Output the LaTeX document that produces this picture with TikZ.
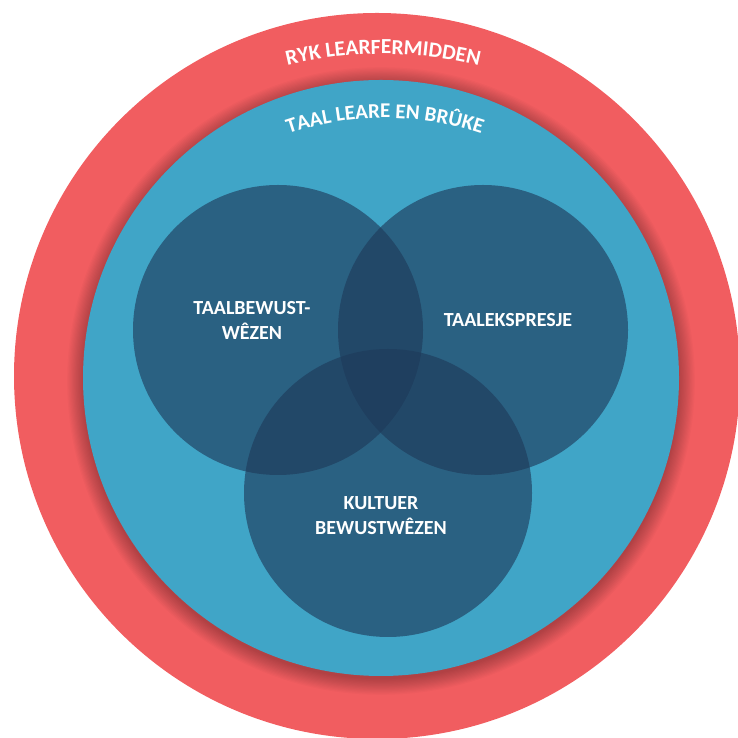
\documentclass[tikz,border=0pt]{standalone}
\usepackage{fontspec}
\setmainfont{Carlito}
\usetikzlibrary{decorations.text}
\definecolor{ringred}{RGB}{241,93,96}
\definecolor{ringblue}{RGB}{64,165,199}
\definecolor{venndark}{RGB}{30,58,90}
\tikzstyle{ring}     = [circle, inner sep=0pt, draw=none]
\tikzstyle{venn}     = [circle, inner sep=0pt, minimum size=290pt, fill=venndark, fill opacity=0.63]
\tikzstyle{venntext} = [text=white, align=center, font=\bfseries\fontsize{20}{25}\selectfont]
\tikzstyle{ringtext} = [decorate, decoration={text along path, text align=center}]

\begin{document}
\begin{tikzpicture}[x=1pt, y=1pt]
  \useasboundingbox (0,0) rectangle (737,738);
  \node (learfer) [ring, fill=ringred, minimum size=726pt] at (377,362) {};
  % soft shadow round the blue disc
  \coordinate (midden) at (381,360);
  \foreach \i in {1,...,14}
    \fill[black, opacity=0.02] ([yshift=-3pt]midden) circle [radius=297+1.2*\i];
  \node (taal) [ring, fill=ringblue, minimum size=596pt] at (midden) {};

  \node (bewustwezen) [venn] at (278,408) {};
  \node (ekspresje)   [venn] at (483,408) {};
  \node (kultuer)     [venn, minimum size=288pt] at (388,245) {};

  \node (bewustlabel)   [venntext] at (252,417.5) {TAALBEWUST-\\WÊZEN};
  \node (ekspresjelabel)[venntext] at (508,418)   {TAALEKSPRESJE};
  \node (kultuerlabel)  [venntext] at (381,222.5) {KULTUER\\BEWUSTWÊZEN};

  \path[ringtext, decoration={text={|\bfseries\fontsize{21.5}{26}\selectfont\color{white}|RYK LEARFERMIDDEN}}]
    (383,284) ++(110:400) arc[start angle=110, end angle=70, radius=400];
  \path[ringtext, decoration={text={|\bfseries\fontsize{21}{26}\selectfont\color{white}|TAAL LEARE EN BRÛKE}}]
    (385,320) ++(120:300) arc[start angle=120, end angle=60, radius=300];
\end{tikzpicture}
\end{document}
